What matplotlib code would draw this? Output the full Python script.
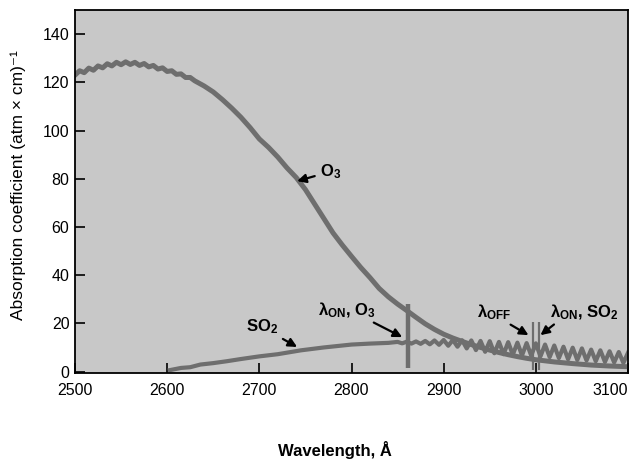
import matplotlib
matplotlib.use("Agg")
import matplotlib.pyplot as plt

# O3 absorption (wavelength in Angstrom, coefficient)
o3_wl = [2500, 2505, 2510, 2515, 2520, 2525, 2530, 2535, 2540, 2545,
         2550, 2555, 2560, 2565, 2570, 2575, 2580, 2585, 2590, 2595,
         2600, 2605, 2610, 2615, 2620, 2625, 2630, 2640, 2650, 2660,
         2670, 2680, 2690, 2700, 2710, 2720, 2730, 2740, 2750, 2760,
         2770, 2780, 2790, 2800, 2810, 2820, 2830, 2840, 2850, 2860,
         2870, 2880, 2890, 2900, 2910, 2920, 2930, 2940, 2950, 2960,
         2970, 2980, 2990, 3000, 3020, 3040, 3060, 3080, 3100]
o3_val = [123.0, 124.8, 124.0, 125.9, 125.0, 126.8, 126.0, 127.7, 126.8, 128.3,
          127.3, 128.5, 127.4, 128.3, 127.0, 127.8, 126.4, 127.0, 125.5, 126.0,
          124.5, 124.8, 123.3, 123.5, 122.0, 122.0, 120.6, 118.5, 116.0, 112.8,
          109.3, 105.5, 101.2, 96.5, 93.0, 89.0, 84.5, 80.5, 75.5, 69.5,
          63.5, 57.5, 52.5, 47.8, 43.2, 39.0, 34.5, 31.0, 28.0, 25.3,
          22.5, 19.8, 17.5, 15.5, 13.9, 12.5, 11.2, 10.0, 8.9, 7.9,
          7.0, 6.2, 5.5, 4.9, 4.0, 3.3, 2.7, 2.3, 2.0]

# SO2 absorption
so2_wl = [2603, 2615, 2625, 2636, 2650, 2665, 2680, 2700, 2720, 2745,
          2770, 2800, 2820, 2840,
          2850, 2855, 2860, 2865, 2870, 2875, 2880, 2885, 2890, 2895,
          2900, 2905, 2910, 2915, 2920, 2925, 2930, 2935, 2940, 2945,
          2950, 2955, 2960, 2965, 2970, 2975, 2980, 2985, 2990, 2995,
          3000, 3005, 3010, 3015, 3020, 3025, 3030, 3035, 3040, 3045,
          3050, 3055, 3060, 3065, 3070, 3075, 3080, 3085, 3090, 3095,
          3100]
so2_val = [0.6, 1.5, 1.8, 2.9, 3.5, 4.3, 5.2, 6.3, 7.2, 8.8,
           10.0, 11.2, 11.6, 11.9,
           12.3, 11.7, 12.4, 11.6, 12.5, 11.5, 12.7, 11.3, 12.9, 11.1,
           13.1, 10.7, 13.1, 10.3, 13.0, 9.6, 12.9, 8.9, 12.7, 8.2,
           12.6, 7.6, 12.3, 7.2, 12.2, 7.0, 12.0, 6.7, 11.8, 6.6,
           11.7, 6.3, 11.2, 6.0, 10.8, 5.6, 10.3, 5.1, 9.9, 4.8,
           9.6, 4.6, 9.1, 4.3, 8.8, 4.0, 8.4, 3.8, 8.1, 3.6,
           7.8]

# measurement wavelengths
on_o3 = 2861
off_wl = 2997
on_so2 = 3003

xticks = [2500, 2600, 2700, 2800, 2900, 3000, 3100]
yticks = [0, 20, 40, 60, 80, 100, 120, 140]

plt.rcParams['font.family'] = ['Liberation Sans', 'DejaVu Sans']
plt.rcParams['mathtext.fontset'] = 'custom'
plt.rcParams['mathtext.rm'] = 'Liberation Sans:bold'
plt.rcParams['mathtext.default'] = 'rm'

fig = plt.figure(figsize=(6.3, 4.59), dpi=100)
ax = fig.add_axes([75 / 630, 1 - 373 / 459, 553 / 630, 363 / 459])
ax.set_facecolor('#c8c8c8')

curve = '#6e6e6e'
ax.plot(o3_wl, o3_val, color=curve, lw=3.6, solid_joinstyle='round')
ax.plot(so2_wl, so2_val, color=curve, lw=3.0, solid_joinstyle='round')

# marker bars
ax.plot([on_o3, on_o3], [1.5, 28], color=curve, lw=3.2, solid_capstyle='butt')
ax.plot([off_wl, off_wl], [0.5, 20.5], color=curve, lw=1.6, solid_capstyle='butt')
ax.plot([on_so2, on_so2], [0.5, 20.5], color=curve, lw=1.6, solid_capstyle='butt')

ax.set_xlim(2500, 3100)
ax.set_ylim(-0.6, 150)
ax.set_xticks(xticks)
ax.set_yticks(yticks)
ax.tick_params(direction='in', length=7, width=1.2, labelsize=11.5)
ax.tick_params(axis='y', pad=4)
ax.tick_params(axis='x', pad=7)
ax.get_xticklabels()[-1].set_horizontalalignment('right')
for s in ax.spines.values():
    s.set_linewidth(1.3)

arrow = dict(arrowstyle='-|>', color='black', lw=1.6, mutation_scale=13,
             shrinkA=0, shrinkB=0)
tkw = dict(fontsize=12, fontweight='bold', va='center', ha='left')

ax.annotate('O$_3$', xy=(2741, 79), xytext=(2766, 83),
            arrowprops=dict(arrow, shrinkA=2), **tkw)
ax.annotate('SO$_2$', xy=(2741, 10.2), xytext=(2685, 18.5),
            arrowprops=dict(arrow, shrinkA=2), **tkw)
ax.annotate('λ$_{ON}$, O$_3$', xy=(2855, 14.3), xytext=(2764, 25.5),
            arrowprops=dict(arrow, relpos=(0.8, 0.1)), **tkw)
ax.annotate('λ$_{OFF}$', xy=(2992, 15.1), xytext=(2936, 24.7),
            arrowprops=dict(arrow, relpos=(0.75, 0.1)), **tkw)
ax.annotate('λ$_{ON}$, SO$_2$', xy=(3005, 15.1), xytext=(3015, 24.7),
            arrowprops=dict(arrow, relpos=(0.15, 0.1)), **tkw)

fig.text(18 / 630, 1 - 185 / 459, 'Absorption coefficient (atm × cm)⁻¹',
         rotation=90, ha='center', va='center', fontsize=12.5)
fig.text(335 / 630, 1 - 450 / 459, 'Wavelength, Å', ha='center', va='center',
         fontsize=12, fontweight='bold')

fig.savefig('out.png', dpi=100)
